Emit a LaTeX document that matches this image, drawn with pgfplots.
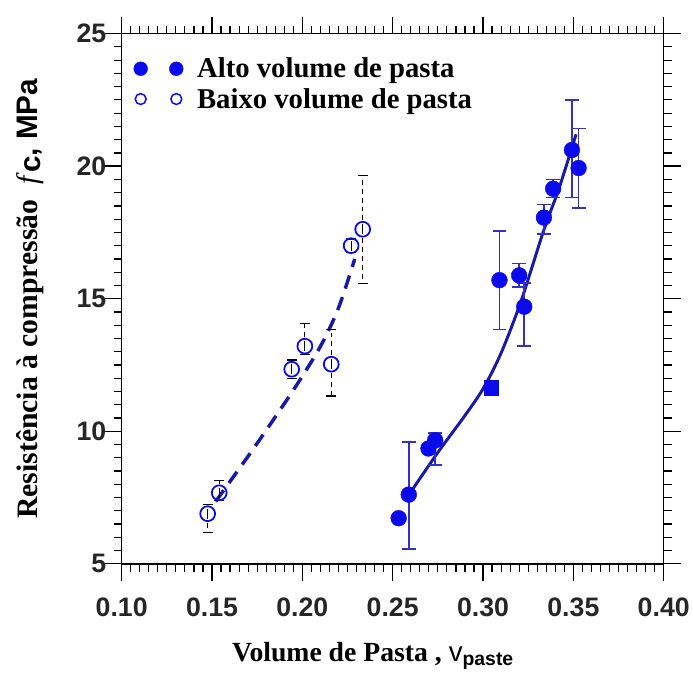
\documentclass[border=0pt]{standalone}
\usepackage{fontspec}
\setmainfont{Liberation Serif}
\setsansfont{Liberation Sans}
\usepackage{pgfplots}
\usepackage{pgfplotstable}
\pgfplotsset{compat=1.18}
\definecolor{markblue}{RGB}{10,10,235}
\definecolor{lineblue}{RGB}{25,25,165}
\definecolor{errblue}{RGB}{50,50,190}
\pgfplotsset{twomarks/.style={legend image code/.code={%
  \path[draw=none, fill=none] (0pt,0pt) -- (55pt,0pt);
  \draw[##1] plot[only marks] coordinates {(0pt,0pt) (36pt,0pt)};}}}

% alto volume de pasta (filled)
\pgfplotstableread{
x      y     ep    em
0.2533 6.72  0     0
0.2589 7.61  1.99  2.06
0.2698 9.35  0     0
0.2735 9.66  0.27  0.93
0.3091 15.70 1.86  1.87
0.3200 15.88 0.44  0.43
0.3228 14.70 0.90  1.49
0.3337 18.06 0.50  0.62
0.3388 19.15 0.34  0.34
0.3492 20.61 1.88  1.80
0.3529 19.93 1.49  1.50
}\alto

% baixo volume de pasta (open)
\pgfplotstableread{
x      y     ep    em
0.1476 6.89  0.35  0.71
0.1540 7.68  0.45  0.30
0.1941 12.34 0.35  0.35
0.2014 13.21 0.85  0.30
0.2160 12.53 1.30  1.20
0.2270 17.00 0.25  0.25
0.2334 17.62 2.04  2.06
}\baixo

\begin{document}
\begin{tikzpicture}
\begin{axis}[
  scale only axis, width=548pt, height=536pt,
  xmin=0.10, xmax=0.40, ymin=5, ymax=25,
  xtick={0.10,0.15,0.20,0.25,0.30,0.35,0.40},
  ytick={5,10,15,20,25},
  minor x tick num=9, minor y tick num=9,
  tick align=inside,
  major tick length=-17pt, minor tick length=-8pt,
  axis line style={line width=1.5pt},
  major tick style={black, line width=1.4pt},
  minor tick style={black, line width=1.2pt},
  /pgf/number format/assume math mode=true,
  /pgf/number format/fixed,
  ticklabel style={font=\fontsize{27}{30}\selectfont\sffamily\bfseries, text=black!85},
  xticklabel style={yshift=-31pt, /pgf/number format/fixed zerofill, /pgf/number format/precision=2},
  yticklabel style={xshift=-12pt},
  xlabel={\fontsize{28}{32}\selectfont{\bfseries Volume de Pasta ,} \textsf{v}\textsubscript{\sffamily\bfseries paste}},
  ylabel={\fontsize{30}{34}\selectfont{\bfseries Resistência à compressão}\ \ \textit{f}\raisebox{-3pt}{\textsf{\bfseries c}}\textsf{\bfseries , MPa}},
  xlabel style={yshift=-19pt, xshift=-20pt}, ylabel style={yshift=26pt},
  legend style={at={(0.022,0.958)}, anchor=north west, draw=none, fill=none,
    font=\fontsize{29}{32}\selectfont\bfseries, row sep=5pt, inner sep=0pt},
  legend cell align=left,
]
\addlegendimage{only marks, mark=*, mark size=7pt, markblue, twomarks}
\addlegendentry{Alto volume de pasta}
\addlegendimage{only marks, mark=o, mark size=5.5pt, markblue, line width=1.5pt, twomarks}
\addlegendentry{Baixo volume de pasta}

% fitted curves
\addplot[lineblue, line width=3pt, smooth, forget plot] coordinates {
  (0.2589,7.60) (0.2753,9.23) (0.2890,10.50) (0.3000,11.60) (0.3100,12.95)
  (0.3210,14.90) (0.3337,17.60) (0.3420,19.15) (0.3515,21.20)};
\addplot[lineblue, line width=3.5pt, smooth, dash pattern=on 14pt off 9pt, forget plot] coordinates {
  (0.152,7.35) (0.173,9.35) (0.195,11.55) (0.210,13.20) (0.220,14.65) (0.229,16.50)};

% open circles with dashed error bars
\addplot[only marks, mark=o, mark size=7.5pt, markblue, line width=1.8pt, forget plot,
  error bars/.cd, y dir=both, y explicit,
  error bar style={black, line width=1.2pt, dash pattern=on 5pt off 4pt},
  error mark options={black, solid, rotate=90, mark size=5pt, line width=1.2pt}]
  table[x=x, y=y, y error plus=ep, y error minus=em] {\baixo};

% filled circles with error bars
\addplot[only marks, mark=*, mark size=8pt, markblue, forget plot,
  error bars/.cd, y dir=both, y explicit,
  error bar style={errblue, line width=1.5pt},
  error mark options={errblue, rotate=90, mark size=7pt, line width=1.5pt}]
  table[x=x, y=y, y error plus=ep, y error minus=em] {\alto};
\addplot[only marks, mark=square*, mark size=7.5pt, markblue, forget plot]
  coordinates {(0.3045,11.65)};

\coordinate (pbl) at (rel axis cs:0,0);
\coordinate (ptr) at (rel axis cs:1,1);
\end{axis}
\path ([xshift=-123pt,yshift=-101pt]pbl) rectangle ([xshift=22pt,yshift=34pt]ptr);
\end{tikzpicture}
\end{document}
